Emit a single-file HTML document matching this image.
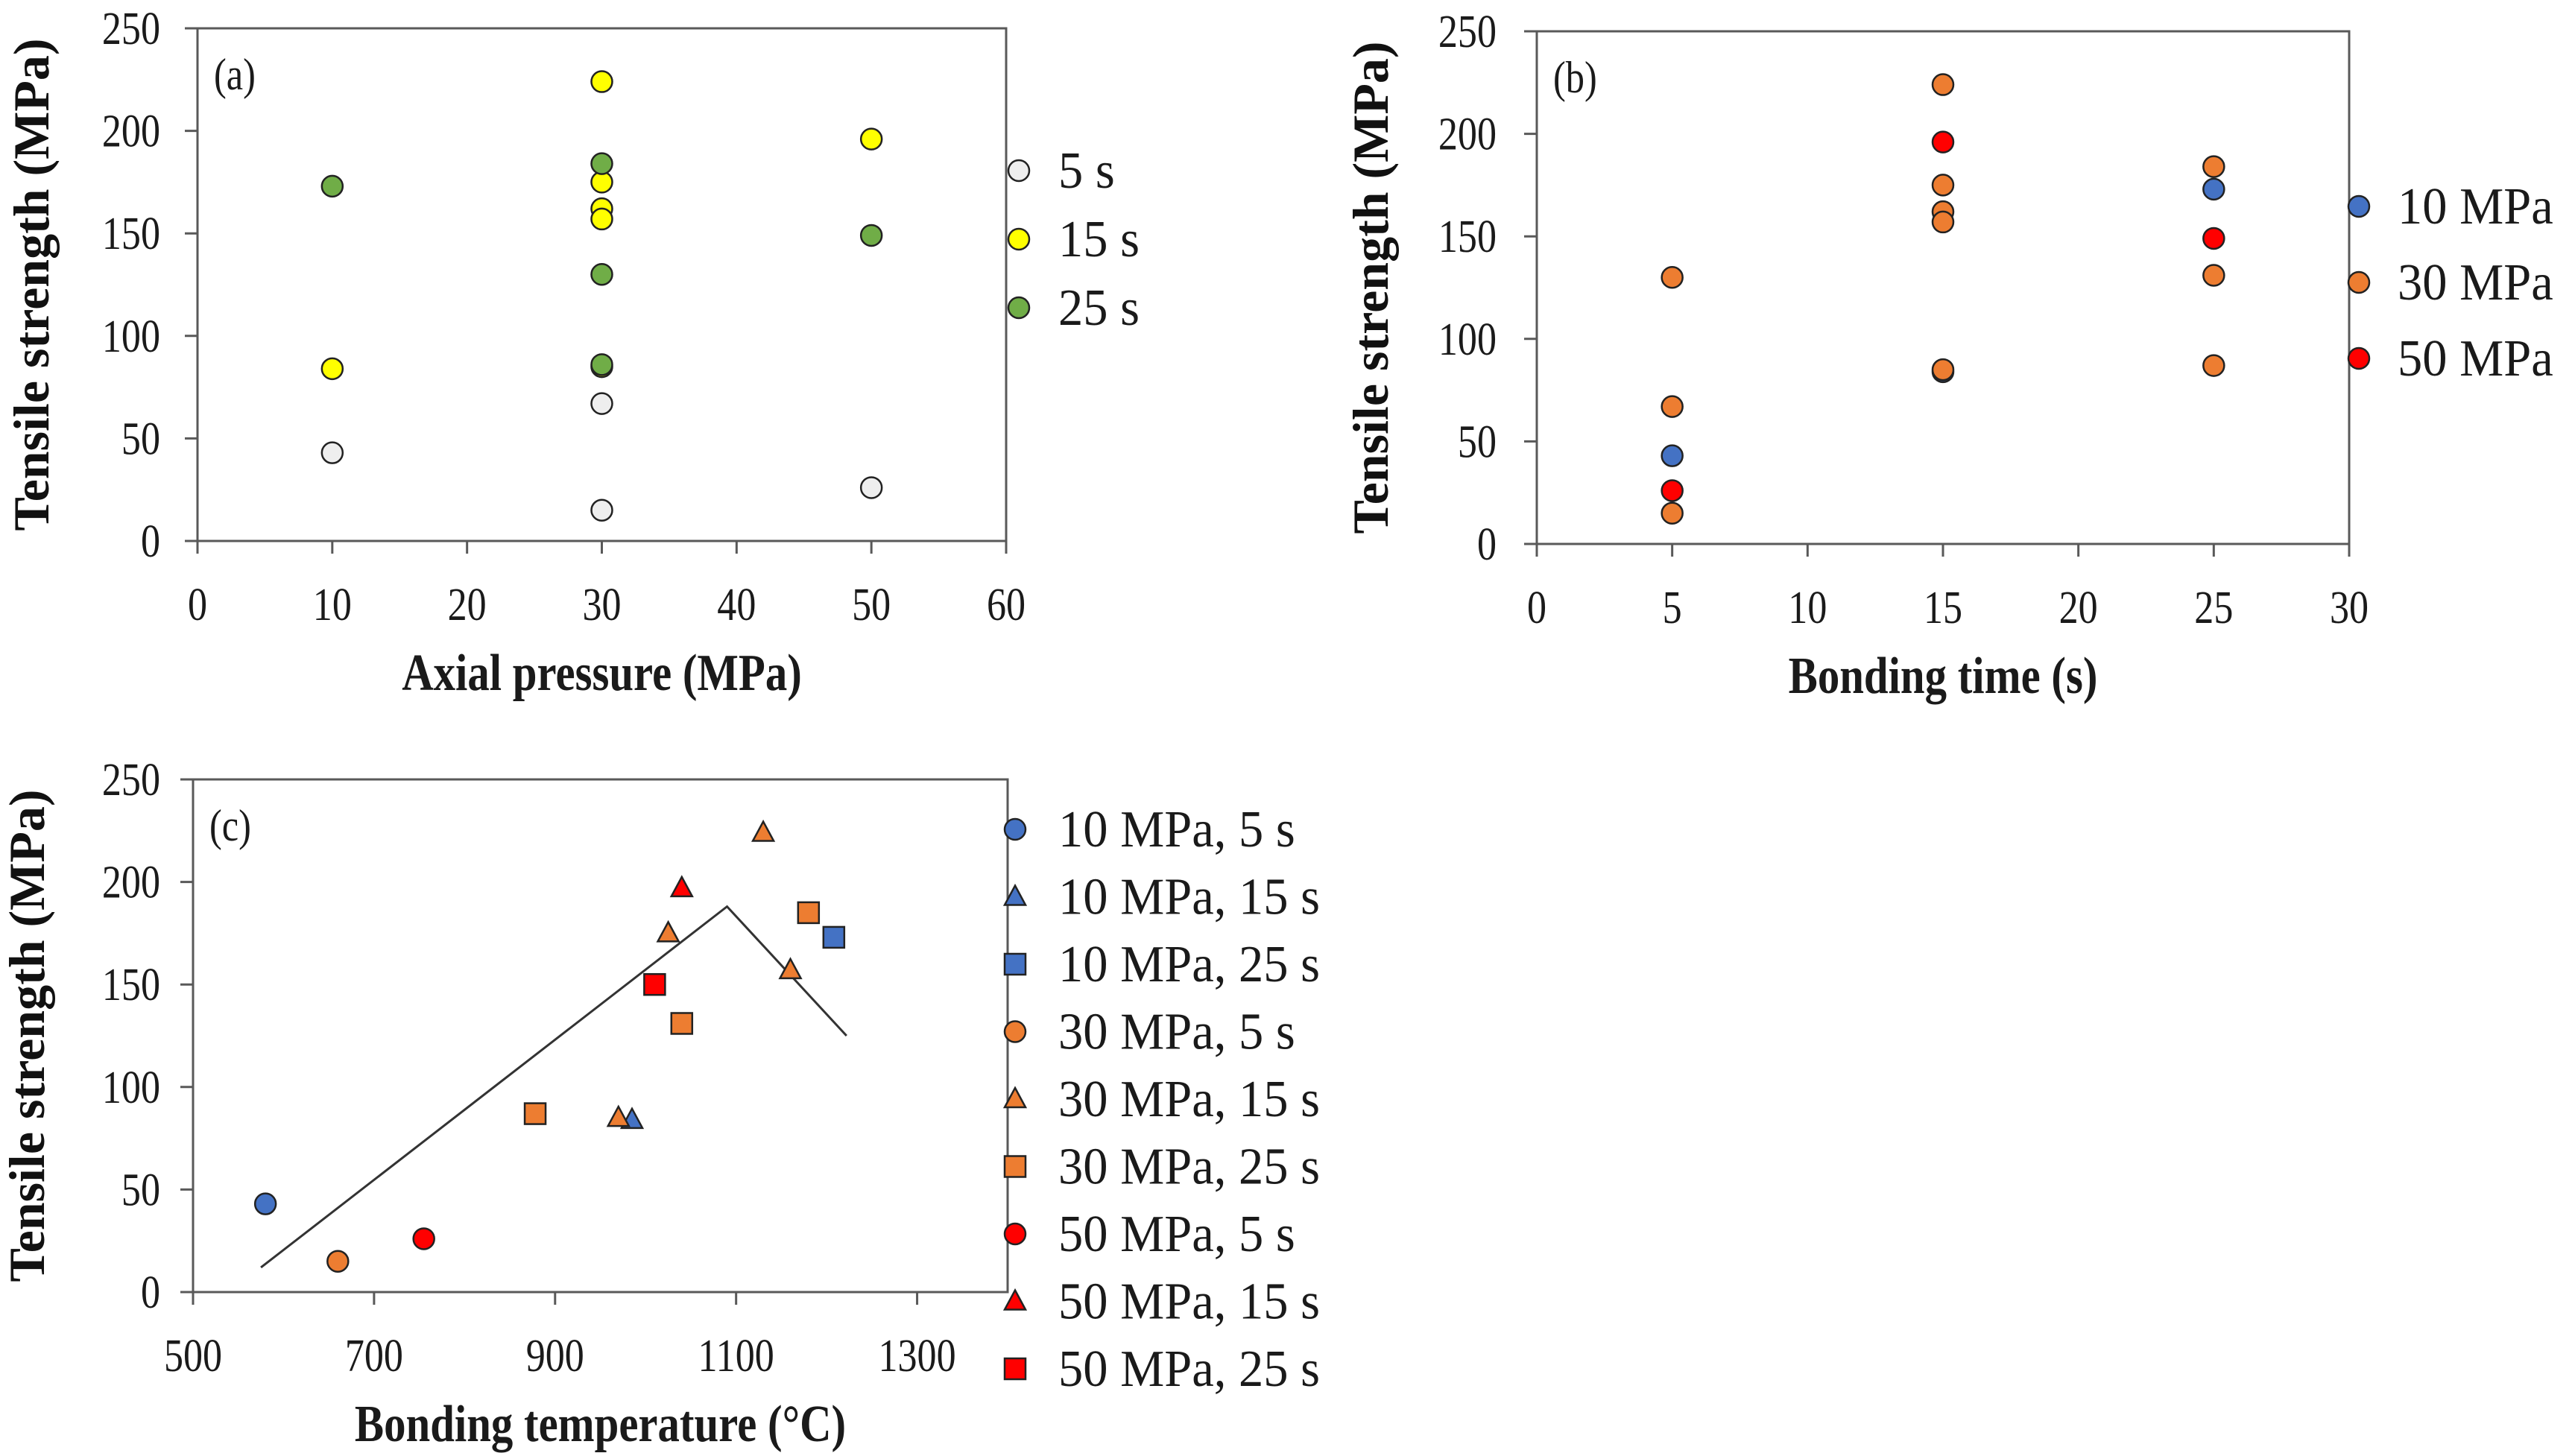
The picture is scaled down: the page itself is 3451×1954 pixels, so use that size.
<!DOCTYPE html>
<html><head><meta charset="utf-8">
<style>
html,body{margin:0;padding:0;background:#fff;}
svg{display:block;font-family:"Liberation Serif",serif;}
</style></head>
<body>
<svg id="fig" width="3451" height="1954" viewBox="0 0 3451 1954" xmlns="http://www.w3.org/2000/svg"></svg>
<script>
// ---- Panel (a) data ----
const aTicksX = [0,10,20,30,40,50,60];
const yTicks = [0,50,100,150,200,250];
const a5x = [10,30,30,50];      const a5y = [43,67,15,26];
const a15x = [10,30,30,30,30,50,30]; const a15y = [84,224,175,162,157,196,85];
const a25x = [10,30,30,30,50];  const a25y = [173,184,130,86,149];
// ---- Panel (b) data ----
const bTicksX = [0,5,10,15,20,25,30];
const b10x = [5,15,25];  const b10y = [43,84,173];
const b30x = [5,5,5,15,15,15,15,15,25,25,25]; const b30y = [130,67,15,224,175,162,157,85,184,131,87];
const b50x = [5,15,25];  const b50y = [26,196,149];
// ---- Panel (c) data ----
const cTicksX = [500,700,900,1100,1300];
const c10_5x=[580], c10_5y=[43];
const c10_15x=[985], c10_15y=[84];
const c10_25x=[1208], c10_25y=[173];
const c30_5x=[660], c30_5y=[15];
const c30_15x=[1130,1025,1160,970], c30_15y=[224,175,157,85];
const c30_25x=[1180,1040,878], c30_25y=[185,131,87];
const c50_5x=[755], c50_5y=[26];
const c50_15x=[1040], c50_15y=[197];
const c50_25x=[1010], c50_25y=[150];
const trendX=[575,1090,1222], trendY=[12,188,125];

const NS="http://www.w3.org/2000/svg";
const svg=document.getElementById('fig');
function el(tag,attrs,parent,text){const e=document.createElementNS(NS,tag);for(const k in attrs)e.setAttribute(k,attrs[k]);if(text!==undefined)e.textContent=text;(parent||svg).appendChild(e);return e;}
function txt(parent,x,y,str,size,sx,anchor,bold){
  return el('text',{x:0,y:0,'font-size':size,'text-anchor':anchor,'font-weight':bold?'bold':'normal',fill:'#1a1a1a',transform:`translate(${x},${y}) scale(${sx},1)`},parent,str);
}
const BLUE="#4472c4",ORANGE="#ed7d31",RED="#ff0000",YELLOW="#ffff00",GREEN="#70ad47",WHITE="#eeeeee";

function panel(name,box,xmin,xmax,xticks,xtitle,label,ytickRight){
  const g=el('g',{},svg);
  
  
  const sx=v=>box.l+(v-xmin)/(xmax-xmin)*(box.r-box.l);
  const sy=v=>box.b-(v/250)*(box.b-box.t);
  const frame=el('rect',{x:box.l,y:box.t,width:box.r-box.l,height:box.b-box.t,fill:'none',stroke:'#595959','stroke-width':3},g);
  
  
  yTicks.forEach(v=>{
    const y=sy(v);
    const t=el('line',{x1:box.l-17,x2:box.l,y1:y,y2:y,stroke:'#595959','stroke-width':3},g);
    
    
    const tl=txt(g,ytickRight,y+21,String(v),62,0.84,'end');
    
    
  });
  xticks.forEach(v=>{
    const x=sx(v);
    const t=el('line',{x1:x,x2:x,y1:box.b,y2:box.b+17,stroke:'#595959','stroke-width':3},g);
    
    
    const tl=txt(g,x,box.b+106,String(v),62,0.84,'middle');
    
    
  });
  const xt=txt(g,(box.l+box.r)/2,box.b+200,xtitle,70,0.84,'middle',true);
  
  
  const cy=(box.t+box.b)/2;
  const yt=el('text',{x:0,y:0,'font-size':68,'font-weight':'bold','text-anchor':'middle',fill:'#111',transform:`translate(${box.l-200},${cy}) rotate(-90)`},g,'Tensile strength (MPa)');
  
  
  const pl=txt(g,box.l+22,box.t+82,label,60,0.84,'start');
  
  
  return {g,sx,sy};
}
function marker(g,shape,x,y,fill){
  let m;
  if(shape==='c') m=el('circle',{cx:x,cy:y,r:14,fill:fill,stroke:'#222','stroke-width':2.5},g);
  else if(shape==='t') m=el('polygon',{points:`${x},${y-15} ${x+14},${y+11} ${x-14},${y+11}`,fill:fill,stroke:'#222','stroke-width':2.5},g);
  else m=el('rect',{x:x-14,y:y-14,width:28,height:28,fill:fill,stroke:'#222','stroke-width':2.5},g);
  return m;
}
function series(P,xs,ys,shape,fill,name){
  xs.forEach((xv,i)=>{
    const m=marker(P.g,shape,P.sx(xv),P.sy(ys[i]),fill);
    
    
  });
}
function legend(x,y0,step,items,tx){
  items.forEach((it,i)=>{
    const y=y0+i*step;
    const m=marker(svg,it[0],x,y,it[1]);
    
    
    const t=txt(svg,tx,y+23,it[2],70,0.95,'start');
    
    
  });
}

// Panel a
const A=panel('panel-a',{l:265,r:1350,t:38,b:726},0,60,aTicksX,'Axial pressure (MPa)','(a)',215);
series(A,a5x,a5y,'c',WHITE,'point-5s');
series(A,a15x,a15y,'c',YELLOW,'point-15s');
series(A,a25x,a25y,'c',GREEN,'point-25s');
legend(1367,229,92,[['c',WHITE,'5 s'],['c',YELLOW,'15 s'],['c',GREEN,'25 s']],1420);

// Panel b
const B=panel('panel-b',{l:2062,r:3152,t:42,b:730},0,30,bTicksX,'Bonding time (s)','(b)',2008);
series(B,b10x,b10y,'c',BLUE,'point-10mpa');
series(B,b30x,b30y,'c',ORANGE,'point-30mpa');
series(B,b50x,b50y,'c',RED,'point-50mpa');
legend(3165,277,102,[['c',BLUE,'10 MPa'],['c',ORANGE,'30 MPa'],['c',RED,'50 MPa']],3217);

// Panel c
const C=panel('panel-c',{l:259,r:1352,t:1046,b:1734},500,1400,cTicksX,'Bonding temperature (°C)','(c)',215);
const tl=el('polyline',{points:trendX.map((v,i)=>C.sx(v)+','+C.sy(trendY[i])).join(' '),fill:'none',stroke:'#333','stroke-width':3},C.g);


series(C,c10_5x,c10_5y,'c',BLUE,'point-10mpa-5s');
series(C,c10_15x,c10_15y,'t',BLUE,'point-10mpa-15s');
series(C,c10_25x,c10_25y,'s',BLUE,'point-10mpa-25s');
series(C,c30_5x,c30_5y,'c',ORANGE,'point-30mpa-5s');
series(C,c30_15x,c30_15y,'t',ORANGE,'point-30mpa-15s');
series(C,c30_25x,c30_25y,'s',ORANGE,'point-30mpa-25s');
series(C,c50_5x,c50_5y,'c',RED,'point-50mpa-5s');
series(C,c50_15x,c50_15y,'t',RED,'point-50mpa-15s');
series(C,c50_25x,c50_25y,'s',RED,'point-50mpa-25s');
legend(1362,1113,90.5,[
 ['c',BLUE,'10 MPa, 5 s'],['t',BLUE,'10 MPa, 15 s'],['s',BLUE,'10 MPa, 25 s'],
 ['c',ORANGE,'30 MPa, 5 s'],['t',ORANGE,'30 MPa, 15 s'],['s',ORANGE,'30 MPa, 25 s'],
 ['c',RED,'50 MPa, 5 s'],['t',RED,'50 MPa, 15 s'],['s',RED,'50 MPa, 25 s']],1420);
</script>
</body></html>
